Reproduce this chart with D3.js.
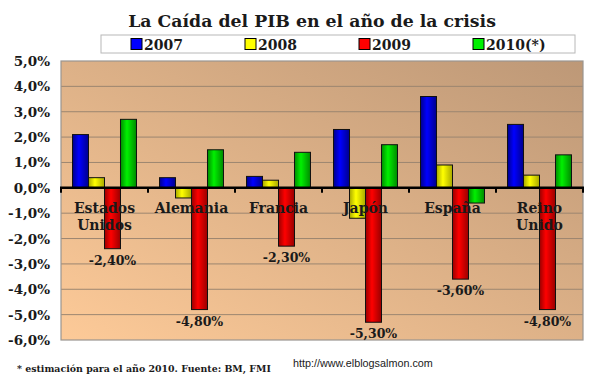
<!DOCTYPE html>
<html>
  <head>
    <meta charset="utf-8">
    <title>La Caída del PIB</title>
    <script src="https://cdn.jsdelivr.net/npm/d3@7"></script>
    <style>
      body { margin: 0; background: #fff; }
      text { font-family: "DejaVu Serif", serif; font-weight: bold; fill: #1a1a1a; }
    </style>
  </head>
  <body>
    <svg id="chart" width="590" height="389"></svg>

    <script>
      // data
      var countries = ["Estados Unidos", "Alemania", "Francia", "Japón", "España", "Reino Unido"];
      var years = ["2007", "2008", "2009", "2010(*)"];
      var v2007 = [2.1, 0.4, 0.45, 2.3, 3.6, 2.5];
      var v2008 = [0.4, -0.4, 0.3, -1.2, 0.9, 0.5];
      var v2009 = [-2.4, -4.8, -2.3, -5.3, -3.6, -4.8];
      var v2010 = [2.7, 1.5, 1.4, 1.7, -0.6, 1.3];
      var yTicks = [5, 4, 3, 2, 1, 0, -1, -2, -3, -4, -5, -6];
      var labelledYear = "2009";

      var series = [v2007, v2008, v2009, v2010];
      var colours = {
        "2007": ["#00008c", "#0000ff"],
        "2008": ["#a8a800", "#ffff00"],
        "2009": ["#990000", "#ff0000"],
        "2010(*)": ["#008a00", "#00f000"]
      };

      var svg = d3.select("#chart");
      var plot = { left: 61, right: 583, top: 61, bottom: 340 };

      // scales
      var y = d3.scaleLinear().domain([-6, 5]).range([plot.bottom, plot.top]);
      var x0 = d3.scaleBand().domain(countries).range([plot.left, plot.right]);
      var x1 = d3.scaleBand().domain(years).range([0, x0.bandwidth()]).paddingOuter(0.72);

      var comma = function(v, digits) { return v.toFixed(digits).replace(".", ","); };

      // gradients
      var defs = svg.append("defs");
      var bg = defs.append("linearGradient")
        .attr("id", "bg")
        .attr("x1", 0).attr("y1", 1).attr("x2", 1).attr("y2", 0);
      bg.append("stop").attr("offset", "0%").attr("stop-color", "#fdca98");
      bg.append("stop").attr("offset", "100%").attr("stop-color", "#bd9877");

      years.forEach(function(yr, i) {
        var g = defs.append("linearGradient").attr("id", "bar" + i);
        g.append("stop").attr("offset", "0%").attr("stop-color", colours[yr][0]);
        g.append("stop").attr("offset", "40%").attr("stop-color", colours[yr][1]);
        g.append("stop").attr("offset", "100%").attr("stop-color", colours[yr][0]);
      });

      // plot area
      svg.append("rect")
        .attr("x", plot.left).attr("y", plot.top)
        .attr("width", plot.right - plot.left).attr("height", plot.bottom - plot.top)
        .style("fill", "url(#bg)");

      svg.append("g")
        .selectAll("line")
        .data(yTicks.filter(function(d) { return d < 5 && d > -6 && d != 0; }))
        .enter().append("line")
          .attr("x1", plot.left).attr("x2", plot.right)
          .attr("y1", function(d) { return y(d); })
          .attr("y2", function(d) { return y(d); })
          .style("stroke", "#9c8670")
          .style("stroke-width", 1);

      svg.append("rect")
        .attr("x", plot.left).attr("y", plot.top)
        .attr("width", plot.right - plot.left).attr("height", plot.bottom - plot.top)
        .style("fill", "none")
        .style("stroke", "#9a9590")
        .style("stroke-width", 1.2);

      // y axis labels
      svg.append("g")
        .selectAll("text")
        .data(yTicks)
        .enter().append("text")
          .attr("x", 50)
          .attr("y", function(d) { return y(d) + 5; })
          .attr("text-anchor", "end")
          .style("font-size", "13.5px")
          .text(function(d) { return comma(d, 1) + "%"; });

      // bars
      var groups = svg.append("g")
        .selectAll("g")
        .data(countries)
        .enter().append("g")
          .attr("transform", function(d) { return "translate(" + x0(d) + ",0)"; });

      groups.selectAll("rect")
        .data(function(d, ci) {
          return years.map(function(yr, si) { return { year: yr, si: si, value: series[si][ci] }; });
        })
        .enter().append("rect")
          .attr("x", function(d) { return x1(d.year); })
          .attr("width", x1.bandwidth())
          .attr("y", function(d) { return y(Math.max(0, d.value)); })
          .attr("height", function(d) { return Math.abs(y(d.value) - y(0)); })
          .style("fill", function(d) { return "url(#bar" + d.si + ")"; })
          .style("stroke", "#111")
          .style("stroke-width", 1);

      // zero line with ticks at the category boundaries
      svg.append("line")
        .attr("x1", plot.left - 1).attr("x2", plot.right + 1)
        .attr("y1", y(0)).attr("y2", y(0))
        .style("stroke", "#000")
        .style("stroke-width", 2.5);

      svg.append("g")
        .selectAll("line")
        .data(countries.map(function(c) { return x0(c); }).concat([plot.right]))
        .enter().append("line")
          .attr("x1", function(d) { return d; }).attr("x2", function(d) { return d; })
          .attr("y1", y(0)).attr("y2", y(0) + 5)
          .style("stroke", "#000")
          .style("stroke-width", 2);

      // category labels
      groups.append("text")
        .attr("text-anchor", "middle")
        .style("font-size", "14px")
        .selectAll("tspan")
        .data(function(d) { return d.split(" "); })
        .enter().append("tspan")
          .attr("x", x0.bandwidth() / 2)
          .attr("y", function(d, i) { return y(0) + 25 + i * 17; })
          .text(function(d) { return d; });

      // value labels for 2009
      groups.append("text")
        .datum(function(d, ci) { return series[years.indexOf(labelledYear)][ci]; })
        .attr("x", x1(labelledYear) + x1.bandwidth() / 2)
        .attr("y", function(d) { return y(d) + 16; })
        .attr("text-anchor", "middle")
        .style("font-size", "12.5px")
        .text(function(d) { return comma(d, 2) + "%"; });

      // title
      function fit(sel, width) {
        var w = sel.node().getComputedTextLength();
        var fs = parseFloat(sel.style("font-size"));
        sel.style("font-size", (fs * width / w) + "px");
      }

      var title = svg.append("text")
        .attr("x", 312).attr("y", 27)
        .attr("text-anchor", "middle")
        .style("font-size", "20px")
        .text("La Caída del PIB en el año de la crisis");
      fit(title, 368);

      // legend
      var legend = svg.append("g").attr("transform", "translate(101,35)");
      legend.append("rect")
        .attr("width", 474).attr("height", 18)
        .style("fill", "#fff")
        .style("stroke", "#b8b8b8");

      var items = legend.selectAll("g.item")
        .data(years)
        .enter().append("g")
          .attr("class", "item")
          .attr("transform", function(d, i) { return "translate(" + (30 + i * 114) + ",0)"; });
      items.append("rect")
        .attr("y", 3.5).attr("width", 11).attr("height", 11)
        .style("fill", function(d) { return colours[d][1]; })
        .style("stroke", "#000");
      items.append("text")
        .attr("x", 13).attr("y", 14.5)
        .style("font-size", "14px")
        .text(function(d) { return d; });

      // footer
      var note = svg.append("text")
        .attr("x", 17).attr("y", 372)
        .style("font-size", "10px")
        .text("* estimación para el año 2010. Fuente: BM, FMI");
      fit(note, 254);

      var url = svg.append("text")
        .attr("x", 293).attr("y", 367)
        .style("font-family", "'Liberation Sans', Arial, sans-serif")
        .style("font-weight", "normal")
        .style("font-size", "12px")
        .text("http://www.elblogsalmon.com");
      fit(url, 140);
    </script>
  </body>
</html>
